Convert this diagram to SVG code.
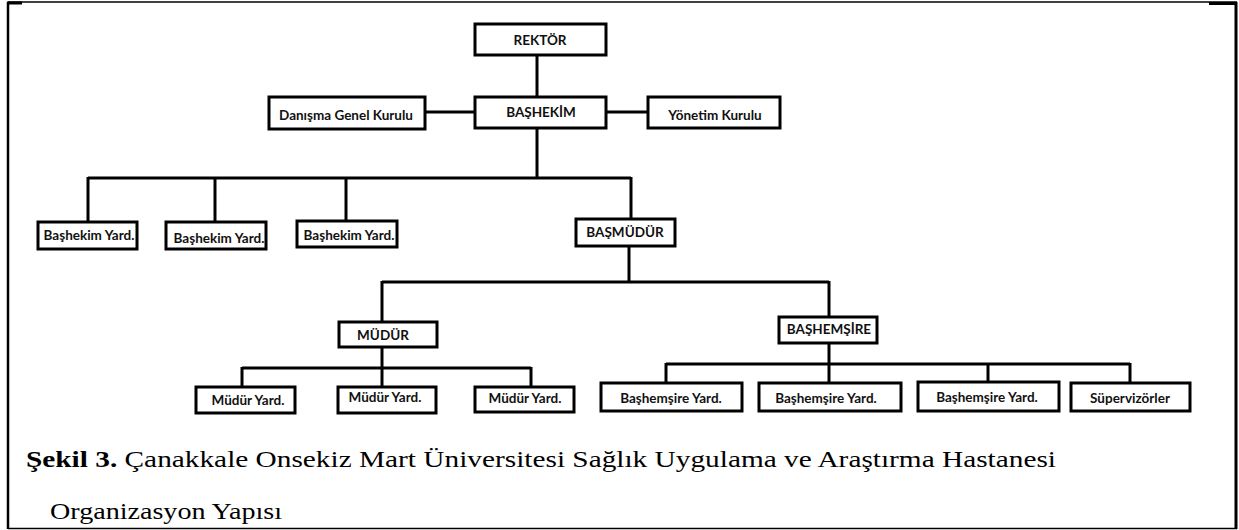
<svg xmlns="http://www.w3.org/2000/svg" width="1239" height="530" viewBox="0 0 1239 530">
<style>
.box{fill:#fff;stroke:#000;stroke-width:3}
.lbl{font-family:Lato,"Open Sans","Liberation Sans",sans-serif;font-weight:bold;font-size:13.5px;fill:#111;text-anchor:middle}
.ln{stroke:#000;stroke-width:3;fill:none}
.cap{font-family:"Liberation Serif","Times New Roman",serif;font-size:23px;fill:#000}
</style>
<rect x="0" y="0" width="1239" height="530" fill="#fff"/>
<g id="frame" fill="none" stroke="#000">
<line x1="8" y1="2" x2="1237" y2="2" stroke-width="1.5"/>
<line x1="8" y1="2" x2="8" y2="529" stroke-width="2.5"/>
<line x1="7" y1="3" x2="22" y2="3" stroke-width="3"/>
<line x1="1209" y1="3.5" x2="1237" y2="3.5" stroke-width="3"/>
<line x1="1236" y1="2" x2="1236" y2="529" stroke-width="3"/>
<line x1="8" y1="528.5" x2="1237" y2="528.5" stroke-width="1.5"/>
</g>
<g id="connectors" class="ln">
<line x1="537" y1="55" x2="537" y2="97"/>
<line x1="425" y1="112" x2="475" y2="112"/>
<line x1="606" y1="112" x2="648" y2="112"/>
<line x1="537" y1="128" x2="537" y2="178"/>
<line x1="88" y1="178" x2="631" y2="178"/>
<line x1="88" y1="177" x2="88" y2="222"/>
<line x1="215" y1="178" x2="215" y2="222"/>
<line x1="346" y1="178" x2="346" y2="221"/>
<line x1="631" y1="177" x2="631" y2="219"/>
<line x1="629" y1="246" x2="629" y2="282"/>
<line x1="382" y1="282" x2="829" y2="282"/>
<line x1="382" y1="281" x2="382" y2="322"/>
<line x1="829" y1="281" x2="829" y2="317"/>
<line x1="382" y1="347" x2="382" y2="368"/>
<line x1="242" y1="368" x2="531" y2="368"/>
<line x1="242" y1="367" x2="242" y2="387"/>
<line x1="382" y1="368" x2="382" y2="387"/>
<line x1="531" y1="367" x2="531" y2="387"/>
<line x1="829" y1="343" x2="829" y2="364"/>
<line x1="666" y1="364" x2="1130" y2="364"/>
<line x1="666" y1="363" x2="666" y2="383"/>
<line x1="829" y1="364" x2="829" y2="383"/>
<line x1="988" y1="363" x2="988" y2="382"/>
<line x1="1130" y1="363" x2="1130" y2="383"/>
</g>
<g id="rektor"><rect class="box" x="475" y="24" width="131" height="31"/><text class="lbl" x="540" y="45">REKTÖR</text></g>
<g id="bashekim"><rect class="box" x="475" y="97" width="131" height="31"/><text class="lbl" x="541" y="117">BAŞHEKİM</text></g>
<g id="danisma"><rect class="box" x="269" y="97" width="156" height="32"/><text class="lbl" x="346" y="120">Danışma Genel Kurulu</text></g>
<g id="yonetim"><rect class="box" x="648" y="97" width="132" height="31"/><text class="lbl" x="715" y="120">Yönetim Kurulu</text></g>
<g id="byard1"><rect class="box" x="38" y="222" width="99" height="27"/><text class="lbl" x="89" y="240">Başhekim Yard.</text></g>
<g id="byard2"><rect class="box" x="166" y="222" width="100" height="27"/><text class="lbl" x="219" y="243">Başhekim Yard.</text></g>
<g id="byard3"><rect class="box" x="297" y="221" width="100" height="26"/><text class="lbl" x="349" y="240">Başhekim Yard.</text></g>
<g id="basmudur"><rect class="box" x="576" y="219" width="99" height="27"/><text class="lbl" x="625" y="237">BAŞMÜDÜR</text></g>
<g id="mudur"><rect class="box" x="339" y="322" width="98" height="25"/><text class="lbl" x="383" y="340">MÜDÜR</text></g>
<g id="myard1"><rect class="box" x="196" y="387" width="99" height="26"/><text class="lbl" x="248" y="405">Müdür Yard.</text></g>
<g id="myard2"><rect class="box" x="338" y="387" width="98" height="26"/><text class="lbl" x="385" y="402">Müdür Yard.</text></g>
<g id="myard3"><rect class="box" x="475" y="387" width="99" height="25"/><text class="lbl" x="525" y="403">Müdür Yard.</text></g>
<g id="bashemsire"><rect class="box" x="779" y="317" width="98" height="26"/><text class="lbl" x="829" y="334">BAŞHEMŞİRE</text></g>
<g id="hyard1"><rect class="box" x="601" y="383" width="141" height="28"/><text class="lbl" x="671" y="403">Başhemşire Yard.</text></g>
<g id="hyard2"><rect class="box" x="759" y="383" width="142" height="28"/><text class="lbl" x="826" y="403">Başhemşire Yard.</text></g>
<g id="hyard3"><rect class="box" x="918" y="382" width="141" height="29"/><text class="lbl" x="987" y="402">Başhemşire Yard.</text></g>
<g id="supervizor"><rect class="box" x="1071" y="383" width="119" height="28"/><text class="lbl" x="1130" y="403">Süpervizörler</text></g>
<g id="caption">
<text class="cap" x="26" y="467" textLength="1030" lengthAdjust="spacingAndGlyphs"><tspan font-weight="bold">Şekil 3.</tspan> Çanakkale Onsekiz Mart Üniversitesi Sağlık Uygulama ve Araştırma Hastanesi</text>
<text class="cap" x="50" y="519" textLength="232" lengthAdjust="spacingAndGlyphs">Organizasyon Yapısı</text>
</g>
</svg>
